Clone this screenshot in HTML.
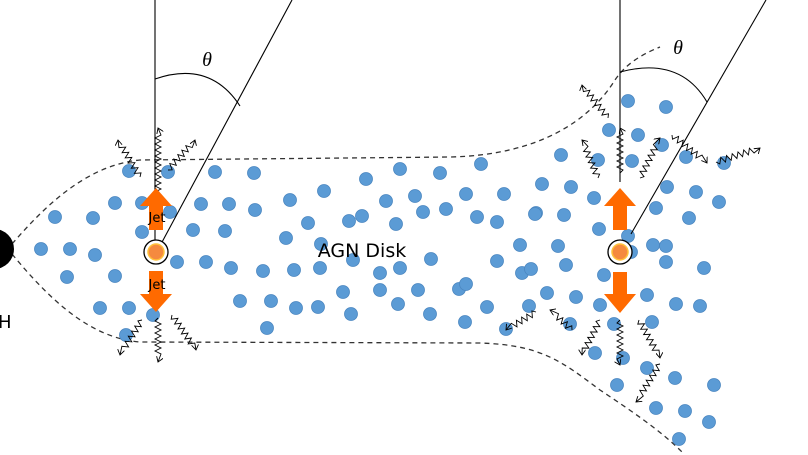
<!DOCTYPE html>
<html><head><meta charset="utf-8"><style>
html,body{margin:0;padding:0;background:#fff;}
svg{display:block;font-family:"DejaVu Sans","Liberation Sans",sans-serif;}
</style></head><body>
<svg id="d" width="808" height="455" viewBox="0 0 808 455">
<defs>
<marker id="ah" markerWidth="8" markerHeight="8" refX="6" refY="4" orient="auto"><path d="M0,0 L6,4 L0,8" fill="none" stroke="#000" stroke-width="1"/></marker>
</defs>
<g id="outline" fill="none" stroke="#333" stroke-width="1.3" stroke-dasharray="5,4">
<path d="M12,244 C50,200 90,165 140,160 L450,157 C540,155 590,120 615,80 C625,65 640,55 660,47"/>
<path d="M12,254 C50,300 90,338 140,342 L480,343 C540,345 560,360 600,390 C630,410 660,430 682,452"/>
</g>
<g id="dots"></g>
<circle cx="-6" cy="249" r="20" fill="#000"/>
<text x="-2" y="328" font-size="18">H</text>
<g id="lines" stroke="#000" stroke-width="1.1" fill="none">
<line x1="155" y1="0" x2="155" y2="240"/>
<line x1="292" y1="0" x2="161" y2="244"/>
<path d="M155,79 Q210,60 240,106"/>
<line x1="620" y1="0" x2="620" y2="182"/>
<line x1="766" y1="0" x2="631" y2="234"/>
<path d="M620,72 Q680,56 707,102"/>
</g>
<text x="207" y="66" font-size="20" font-family="Liberation Serif,serif" font-style="italic" text-anchor="middle">θ</text>
<text x="678" y="54" font-size="20" font-family="Liberation Serif,serif" font-style="italic" text-anchor="middle">θ</text>
<g id="sq" stroke="#000" stroke-width="0.9" fill="none"></g>
<g>
<circle cx="156" cy="252" r="12" fill="#fff" stroke="#000" stroke-width="1.3"/>
<circle cx="156" cy="252" r="8" fill="#f58a3f" stroke="#ffc23a" stroke-width="1.5"/>
</g>
<g>
<circle cx="620" cy="252" r="12" fill="#fff" stroke="#000" stroke-width="1.3"/>
<circle cx="620" cy="252" r="8" fill="#f58a3f" stroke="#ffc23a" stroke-width="1.5"/>
</g>
<g fill="#ff6a00">
<path d="M149,230 L149,206 L140,206 L156,188 L172,206 L163,206 L163,230 Z"/>
<path d="M149,271 L163,271 L163,294 L172,294 L156,312 L140,294 L149,294 Z"/>
<path d="M613,230 L613,206 L604,206 L620,188 L636,206 L627,206 L627,230 Z"/>
<path d="M613,272 L627,272 L627,294 L636,294 L620,313 L604,294 L613,294 Z"/>
</g>
<text x="157" y="222" font-size="13" text-anchor="middle">Jet</text>
<text x="157" y="289" font-size="13" text-anchor="middle">Jet</text>
<text x="362" y="257" font-size="19" text-anchor="middle">AGN Disk</text>
</svg>
<script>
const dotX=[129,168,215,254,55,93,115,142,170,201,229,255,41,70,95,67,115,142,177,206,231,193,225,100,129,153,126,
290,324,366,400,440,481,308,349,362,386,415,446,466,504,286,321,396,423,477,497,536,263,294,320,353,380,400,431,459,497,520,240,271,296,318,343,351,380,398,418,430,465,487,466,529,506,267,522,
628,666,609,638,662,561,598,632,686,724,542,571,594,667,696,719,535,564,656,689,599,628,653,558,631,666,531,566,604,666,704,547,576,600,647,676,700,570,614,652,595,623,647,617,675,714,656,685,709,679];
const dotY=[171,172,172,173,217,218,203,203,212,204,204,210,249,249,255,277,276,232,262,262,268,230,231,308,308,315,335,
200,191,179,169,173,164,223,221,216,201,196,209,194,194,238,244,224,212,217,222,213,271,270,268,260,273,268,259,289,261,245,301,301,308,307,292,314,290,304,290,314,322,307,284,306,329,328,273,
101,107,130,135,145,155,160,161,157,163,184,187,198,187,192,202,214,215,208,218,229,236,245,246,252,246,269,265,275,262,268,293,297,305,295,304,306,324,324,322,353,358,368,385,378,385,408,411,422,439];
const sqFromX=[158,140,168,158,142,172,620,598,640,608,672,716,620,600,639,572,536,660];
const sqFromY=[210,177,170,318,320,315,173,178,178,118,135,162,320,320,320,330,312,364];
const sqToX=[158,118,195,158,120,196,620,582,660,582,707,760,620,582,660,550,506,636];
const sqToY=[128,140,140,362,355,350,128,140,138,85,163,148,365,355,358,310,330,402];
const NS='http://www.w3.org/2000/svg';
const dg=document.getElementById('dots');
for(let i=0;i<dotX.length;i++){
const c=document.createElementNS(NS,'circle');
c.setAttribute('cx',dotX[i]);c.setAttribute('cy',dotY[i]);c.setAttribute('r',6.5);
c.setAttribute('fill','#5b9bd5');c.setAttribute('stroke','#4a86c0');c.setAttribute('stroke-width','0.8');


dg.appendChild(c);}
const sg=document.getElementById('sq');
for(let i=0;i<sqFromX.length;i++){
const x0=sqFromX[i],y0=sqFromY[i],x1=sqToX[i],y1=sqToY[i];
const dx=x1-x0,dy=y1-y0,L=Math.hypot(dx,dy),ux=dx/L,uy=dy/L,nx=-uy,ny=ux;
let d='M'+x0+','+y0;const n=Math.floor((L-6)/3);
for(let k=1;k<=n;k++){const t=k*3,s=(k%2?3:-3);d+=' L'+(x0+ux*t+nx*s).toFixed(1)+','+(y0+uy*t+ny*s).toFixed(1);}
d+=' L'+x1+','+y1;
const p=document.createElementNS(NS,'path');
p.setAttribute('d',d);p.setAttribute('marker-end','url(#ah)');


sg.appendChild(p);}
</script>
</body></html>
